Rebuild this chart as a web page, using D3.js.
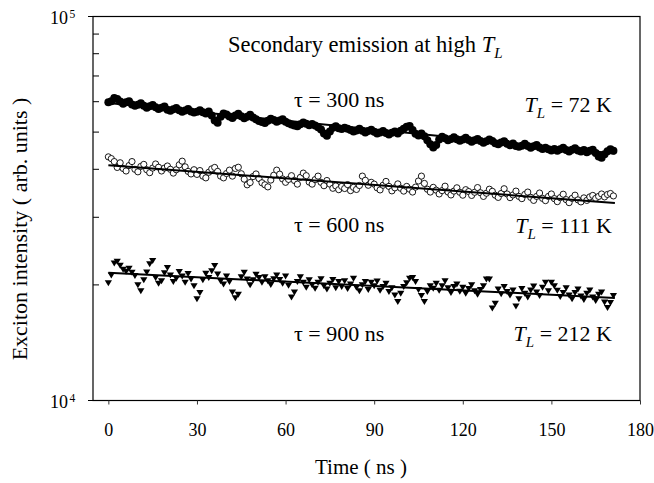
<!DOCTYPE html>
<html><head><meta charset="utf-8">
<script src="https://cdn.jsdelivr.net/npm/d3@7"></script>
<style>
body{margin:0;background:#fff}
svg{display:block}
text{font-family:"Liberation Serif","Times New Roman",serif;fill:#000}
</style>
</head><body>
<svg id="c" width="654" height="483"></svg>
<script>
// sampling of the time axis (ns)
const T_START = 0, T_STEP = 1;
const UNIT = 1000; // intensities below are in thousands of arb. units

// T_L = 72 K (filled circles)
const int72K = [
59.8,60.2,61.3,61.0,60.1,59.3,59.8,60.2,59.0,58.6,
58.9,59.4,58.6,57.9,58.4,58.8,58.0,57.4,57.9,58.3,
57.2,56.8,57.3,57.8,57.0,56.5,56.9,57.4,56.6,56.2,
56.5,57.0,56.3,55.9,56.6,55.2,53.6,52.9,54.8,55.9,
55.6,54.9,54.4,55.2,55.8,55.0,54.3,54.8,55.5,54.6,
54.0,53.4,53.1,52.8,53.5,54.2,53.8,53.2,53.6,54.0,
53.2,52.7,52.3,52.0,51.8,52.4,53.0,52.6,52.1,52.5,
52.0,51.5,50.8,49.6,48.9,50.2,51.3,51.8,51.2,50.9,
51.3,51.0,50.6,50.2,50.5,51.0,50.4,49.9,50.3,50.7,
50.1,49.6,49.9,50.3,49.7,49.3,49.8,50.2,49.6,50.4,
51.0,51.6,51.9,50.6,49.5,49.0,49.6,48.8,47.6,46.5,
45.6,46.3,47.8,48.6,48.2,47.6,48.0,48.5,47.9,47.5,
47.8,48.3,47.7,47.2,47.6,48.0,47.4,46.9,47.3,47.8,
47.4,46.8,46.5,47.0,47.3,46.6,46.2,46.7,46.0,45.8,
46.1,46.6,46.0,45.5,45.9,46.3,45.6,45.2,45.5,45.1,
44.8,45.2,44.7,45.1,45.5,44.9,44.5,45.0,45.4,44.8,
44.5,44.9,44.3,44.7,45.0,44.1,43.2,42.9,43.8,44.6,
45.1,44.7
];
// T_L = 111 K (open circles)
const int111K = [
43.1,42.65,41.9,40.45,41.6,40.2,39.6,40.9,41.9,40.0,
39.4,40.7,41.2,39.9,39.2,40.3,41.3,40.5,39.6,40.3,
40.8,40.0,39.1,39.9,41.1,42.0,40.6,39.5,38.9,39.9,
38.8,39.7,38.4,38.0,39.3,40.1,40.45,39.5,38.4,38.0,
39.0,39.8,38.4,40.2,40.5,38.95,37.7,36.45,36.95,38.3,
38.9,37.85,36.9,36.45,36.0,37.5,38.6,39.8,38.85,37.75,
37.0,37.65,38.5,37.4,36.6,38.1,39.1,38.5,37.05,36.6,
37.6,38.4,37.0,36.25,37.4,36.6,35.7,36.2,35.4,36.1,
35.65,36.5,35.2,35.9,35.45,36.3,38.4,37.45,36.35,37.0,
36.6,35.8,35.35,36.35,37.2,36.1,35.15,35.8,36.65,35.7,
35.1,36.1,35.5,34.9,35.95,37.3,38.4,36.75,35.5,34.9,
35.9,35.3,34.5,35.2,36.15,34.9,34.3,35.1,35.8,34.85,
34.25,35.4,35.0,34.2,34.85,35.85,34.75,34.0,34.65,35.5,
35.05,34.25,33.8,34.6,35.6,34.5,33.75,34.3,35.1,34.0,
33.55,34.4,34.9,33.8,33.2,34.0,34.7,33.6,33.15,34.0,
34.5,33.55,32.95,33.75,34.45,33.35,32.75,33.6,34.25,33.3,
32.9,33.7,33.2,33.9,34.2,33.6,34.0,34.5,33.9,34.4,
34.6,34.1
];
// T_L = 212 K (filled down-triangles)
const int212K = [
20.25,21.2,22.8,23.05,22.5,21.95,21.7,22.1,21.55,21.15,
20.0,19.3,20.6,21.6,22.7,23.15,20.9,20.2,20.5,21.5,
22.2,21.2,20.4,20.8,21.65,21.1,20.3,21.4,20.7,19.9,
18.4,19.1,20.6,21.45,20.9,21.75,22.45,21.35,20.5,20.1,
21.1,20.4,19.15,18.5,18.9,21.0,21.55,20.7,20.0,20.6,
21.3,20.9,20.3,21.0,20.5,20.05,20.75,21.2,20.65,20.2,
21.1,19.95,18.6,19.15,20.4,21.0,20.3,19.7,20.6,20.0,
19.6,20.3,20.75,19.9,19.5,20.2,20.65,19.65,20.4,19.8,
20.5,19.55,20.1,20.8,19.7,19.3,20.0,20.4,19.45,20.3,
19.9,20.45,19.35,19.8,20.2,19.2,19.65,18.8,18.1,19.0,
19.8,20.25,20.8,20.9,20.4,19.45,18.75,18.1,19.2,19.9,
19.6,20.2,19.35,19.9,20.5,19.65,19.1,19.8,20.1,19.25,
19.7,19.0,19.55,20.0,19.3,18.9,19.45,19.9,20.7,20.7,
17.4,17.9,19.5,18.95,19.8,19.2,18.8,19.4,17.6,18.4,
19.55,19.0,18.6,19.4,19.85,19.15,18.75,19.7,20.3,19.3,
20.3,19.9,19.35,18.65,19.1,19.65,18.8,18.4,19.1,19.5,
18.7,18.3,19.0,19.4,18.6,18.2,18.9,19.15,18.05,17.45,
18.0,18.75
];
// exponential fits (straight lines on the log axis), endpoints
const fitTime = [0, 171.5];
const fit72K  = [59.5, 44.0];
const fit111K = [41.0, 32.7];
const fit212K = [21.5, 18.5];

const xTicks = [0, 30, 60, 90, 120, 150, 180];
const yMajor = [1e4, 1e5];
const yMajorExp = ["4", "5"];
const yMinor = [2e4, 3e4, 4e4, 5e4, 6e4, 7e4, 8e4, 9e4];

const svg = d3.select("#c");
const L = 93, R = 640, TOP = 16.5, BOT = 400.5;
const x = d3.scaleLinear().domain([-5.2, 180]).range([L, R]);
const y = d3.scaleLog().domain([1e4, 1e5]).range([BOT, TOP]);

// frame
svg.append("rect").attr("x", L).attr("y", TOP).attr("width", R - L).attr("height", BOT - TOP)
  .attr("fill", "none").attr("stroke", "#000").attr("stroke-width", 1.2);

// x axis
const xa = svg.append("g").attr("transform", `translate(0,${BOT})`)
  .call(d3.axisBottom(x).tickValues(xTicks).tickSize(4).tickPadding(20).tickFormat(d3.format("d")));
xa.select(".domain").remove();
xa.selectAll("line").attr("stroke", "#333");
xa.selectAll("text").attr("font-size", 18).attr("font-family", "Liberation Serif").attr("dy", "0").attr("y", 35.5);

// y axis major (outside) and minor (inside) ticks
const yg = svg.append("g");
yg.selectAll("line.maj").data(yMajor).join("line")
  .attr("x1", L - 5).attr("x2", L).attr("y1", d => y(d)).attr("y2", d => y(d)).attr("stroke", "#000");
yg.selectAll("line.min").data(yMinor).join("line").attr("class","min")
  .attr("x1", L).attr("x2", L + 6).attr("y1", d => y(d)).attr("y2", d => y(d)).attr("stroke", "#000");
const yl = yg.selectAll("text.yl").data(yMajor).join("text")
  .attr("x", 50).attr("y", d => y(d) + 7.5).attr("font-size", 18);
yl.append("tspan").text("10");
yl.append("tspan").attr("font-size", 11.5).attr("dy", -6.5).attr("dx", 1.5).text((d, i) => yMajorExp[i]);

// axis titles
svg.append("text").attr("x", 361).attr("y", 474).attr("text-anchor", "middle").attr("font-size", 21).text("Time ( ns )");
svg.append("text").attr("transform", "translate(27,229) rotate(-90)").attr("text-anchor", "middle")
  .attr("font-size", 22).text("Exciton intensity ( arb. units )");

// data
const times = arr => arr.map((v, i) => T_START + i * T_STEP);
const line = d3.line().x(d => x(d[0])).y(d => y(d[1] * UNIT));
function fitLine(vals) {
  svg.append("path").attr("d", line(fitTime.map((t, i) => [t, vals[i]])))
    .attr("fill", "none").attr("stroke", "#000").attr("stroke-width", 2);
}

// series 72 K
const t72 = times(int72K);
fitLine(fit72K);
svg.append("g").selectAll("circle").data(int72K).join("circle")
  .attr("cx", (d, i) => x(t72[i])).attr("cy", d => y(d * UNIT)).attr("r", 4).attr("fill", "#000");

// series 111 K
const t111 = times(int111K);
svg.append("g").selectAll("circle").data(int111K).join("circle")
  .attr("cx", (d, i) => x(t111[i])).attr("cy", d => y(d * UNIT)).attr("r", 3.1)
  .attr("fill", "#fff").attr("stroke", "#000").attr("stroke-width", 0.9);
fitLine(fit111K);

// series 212 K
const t212 = times(int212K);
const tri = "M-3.6,-2.6L3.6,-2.6L0,3.4Z";
svg.append("g").selectAll("path").data(int212K).join("path")
  .attr("d", tri).attr("transform", (d, i) => `translate(${x(t212[i])},${y(d * UNIT)})`).attr("fill", "#000");
fitLine(fit212K);

// annotations
const title = svg.append("text").attr("x", 228).attr("y", 52).attr("font-size", 22.5);
title.append("tspan").text("Secondary emission at high  ");
title.append("tspan").attr("font-style", "italic").text("T");
title.append("tspan").attr("font-style", "italic").attr("font-size", 15).attr("dy", 6).text("L");

function tauLabel(txt, yy) {
  svg.append("text").attr("x", 294).attr("y", yy).attr("font-size", 22).text(txt);
}
tauLabel("τ = 300 ns", 107);
tauLabel("τ = 600 ns", 232);
tauLabel("τ = 900 ns", 341);

function tlLabel(txt, yy) {
  const t = svg.append("text").attr("x", 612).attr("y", yy).attr("font-size", 22).attr("text-anchor", "end");
  t.append("tspan").attr("font-style", "italic").text("T");
  t.append("tspan").attr("font-style", "italic").attr("font-size", 15).attr("dy", 6).text("L");
  t.append("tspan").attr("dy", -6).text(" = " + txt);
}
tlLabel("72 K", 112);
tlLabel("111 K", 233);
tlLabel("212 K", 341);
</script>
</body></html>
